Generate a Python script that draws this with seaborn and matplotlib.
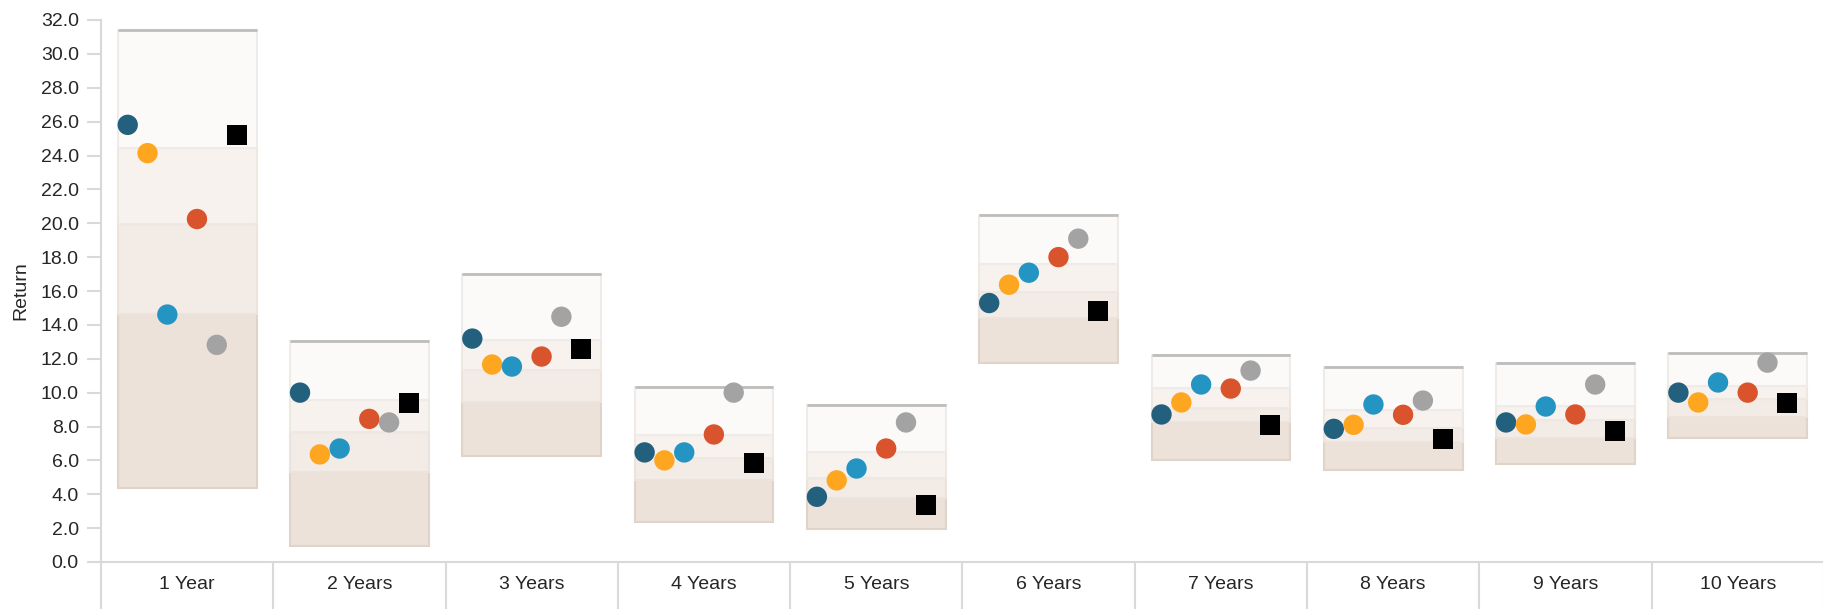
import matplotlib.pyplot as plt
import numpy as np
import pandas as pd
import seaborn as sns

# categories
periods = ['1 Year', '2 Years', '3 Years', '4 Years', '5 Years',
           '6 Years', '7 Years', '8 Years', '9 Years', '10 Years']

# quartile bands (min, 25th, median, 75th, max)
q_min = [4.37, 0.94, 6.25, 2.38, 1.93, 11.77, 6.01, 5.42, 5.78, 7.33]
q_25 = [14.63, 5.32, 9.45, 4.85, 3.79, 14.40, 8.27, 7.08, 7.35, 8.57]
q_50 = [19.95, 7.68, 11.32, 6.15, 4.97, 15.94, 9.10, 7.92, 8.37, 9.65]
q_75 = [24.43, 9.59, 13.13, 7.49, 6.51, 17.61, 10.28, 8.96, 9.20, 10.40]
q_max = [31.42, 13.05, 17.02, 10.34, 9.26, 20.46, 12.21, 11.50, 11.73, 12.32]

# series
fund_1 = [25.81, 10.00, 13.19, 6.47, 3.85, 15.29, 8.71, 7.86, 8.24, 10.00]
fund_2 = [24.14, 6.35, 11.66, 6.00, 4.82, 16.37, 9.42, 8.10, 8.12, 9.42]
fund_3 = [14.61, 6.70, 11.54, 6.47, 5.52, 17.08, 10.48, 9.30, 9.18, 10.60]
fund_4 = [20.25, 8.45, 12.13, 7.53, 6.70, 18.00, 10.24, 8.69, 8.71, 10.00]
fund_5 = [12.82, 8.24, 14.48, 10.00, 8.24, 19.09, 11.30, 9.53, 10.48, 11.77]
benchmark = [25.19, 9.39, 12.58, 5.86, 3.36, 14.80, 8.08, 7.27, 7.74, 9.39]

series_names = ['Fund 1', 'Fund 2', 'Fund 3', 'Fund 4', 'Fund 5']
series_vals = [fund_1, fund_2, fund_3, fund_4, fund_5]
series_colors = ['#22607e', '#ffa620', '#2495c2', '#d9542c', '#a3a3a3']
offsets = [-0.345, -0.230, -0.115, 0.057, 0.172]
bench_offset = 0.287

sns.set_style('white')
plt.rcParams['font.family'] = ['Liberation Sans', 'DejaVu Sans']

fig = plt.figure(figsize=(18.24, 6.09), dpi=100)
ax = fig.add_axes([101 / 1824, 47 / 609, 1723 / 1824, 542 / 609])

x = np.arange(len(periods))
w = 0.805
band_colors = ['#ece2d9', '#f3ebe6', '#f7f2ee', '#fbfaf9']
band_edges = ['#e0d4c8', '#ebe3dc', '#eee8e3', '#efebe8']
lows = [q_min, q_25, q_50, q_75]
highs = [q_25, q_50, q_75, q_max]
for lo, hi, c, ec in zip(lows, highs, band_colors, band_edges):
    lo = np.array(lo)
    hi = np.array(hi)
    ax.bar(x, hi - lo, bottom=lo, width=w, color=c, edgecolor=ec,
           linewidth=1.5, zorder=1)
ax.hlines(q_max, x - w / 2, x + w / 2, color='#bdbdbd', linewidth=2, zorder=2)

# long table for seaborn
rows = []
for name, vals, off in zip(series_names, series_vals, offsets):
    for i, v in enumerate(vals):
        rows.append({'x': i + off, 'Return': v, 'series': name})
df = pd.DataFrame(rows)
bench_df = pd.DataFrame({'x': x + bench_offset, 'Return': benchmark})

sns.scatterplot(data=df, x='x', y='Return', hue='series',
                palette=dict(zip(series_names, series_colors)),
                s=215, linewidth=0, legend=False, zorder=3, ax=ax)
sns.scatterplot(data=bench_df, x='x', y='Return', color='black', marker='s',
                s=215, linewidth=0, zorder=3, ax=ax)

ax.set_xlim(-0.5, 9.414)
ax.set_ylim(0, 32)
ax.set_yticks(np.arange(0, 33, 2))
ax.set_yticklabels([f'{t:.1f}' for t in np.arange(0, 33, 2)])
ax.set_xticks(x)
ax.set_xticklabels(periods)
ax.set_xticks(np.arange(-0.5, 10, 1), minor=True)
ax.tick_params(axis='x', which='both', bottom=True)
ax.tick_params(axis='x', which='major', length=0, pad=10, labelsize=14)
ax.tick_params(axis='x', which='minor', length=34, width=1.5,
               color='#d9d9d9', direction='out')
ax.tick_params(axis='y', left=True, length=10, width=1.5, color='#d9d9d9',
               pad=6, labelsize=14)
ax.set_xlabel('')
ax.set_ylabel('Return', fontsize=14, labelpad=8)

for side in ['top', 'right']:
    ax.spines[side].set_visible(False)
for side in ['left', 'bottom']:
    ax.spines[side].set_color('#d9d9d9')
    ax.spines[side].set_linewidth(1.5)

fig.savefig('out.png', dpi=100)
